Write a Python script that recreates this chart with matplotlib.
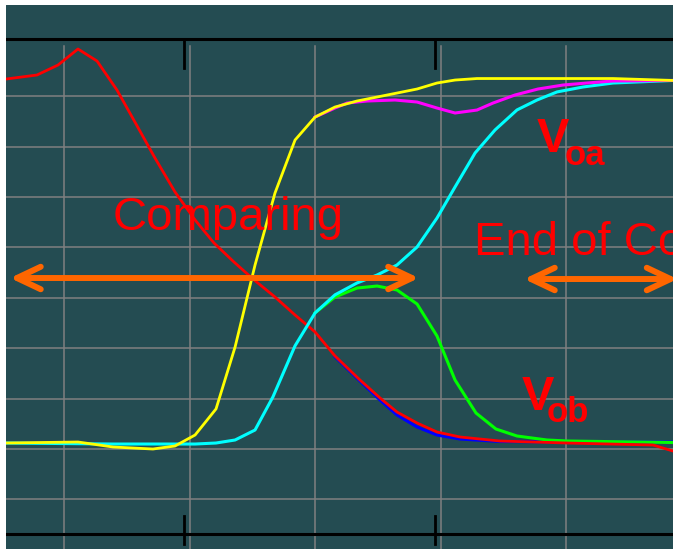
import matplotlib.pyplot as plt

# time axis in scope divisions, voltage in divisions
red_t = [-0.465, -0.218, -0.050, 0.109, 0.261, 0.420, 0.572, 0.723, 0.883, 1.043,
         1.194, 1.353, 1.505, 1.680, 1.840, 2.000, 2.159, 2.358, 2.518, 2.653,
         2.813, 2.972, 3.156, 3.474, 4.009, 4.695, 4.854]
red_v = [8.341, 8.421, 8.619, 8.937, 8.698, 8.123, 7.448, 6.774, 6.099, 5.544,
         5.087, 4.710, 4.373, 4.016, 3.659, 3.321, 2.845, 2.369, 2.012, 1.734,
         1.516, 1.337, 1.238, 1.159, 1.119, 1.079, 0.960]

blue_t = [2.159, 2.358, 2.518, 2.653, 2.813, 2.972, 3.156, 3.474, 4.009, 4.854]
blue_v = [2.830, 2.349, 1.972, 1.675, 1.437, 1.278, 1.198, 1.149, 1.139, 1.139]

yellow_t = [-0.465, 0.109, 0.388, 0.707, 0.883, 1.043, 1.210, 1.362, 1.521, 1.680,
            1.840, 2.000, 2.159, 2.334, 2.653, 2.813, 2.972, 3.116, 3.291, 4.376, 4.854]
yellow_v = [1.119, 1.139, 1.040, 1.000, 1.060, 1.278, 1.796, 3.026, 4.651, 6.079,
            7.131, 7.587, 7.786, 7.905, 8.063, 8.143, 8.262, 8.321, 8.351, 8.351, 8.313]

magenta_t = [2.000, 2.159, 2.255, 2.414, 2.637, 2.813, 2.972, 3.116, 3.291, 3.419,
             3.594, 3.778, 3.977, 4.168, 4.376, 4.854]
magenta_v = [7.587, 7.766, 7.865, 7.905, 7.925, 7.885, 7.766, 7.667, 7.726, 7.865,
             8.024, 8.143, 8.222, 8.262, 8.302, 8.313]

cyan_t = [-0.465, 0.388, 1.043, 1.210, 1.362, 1.521, 1.664, 1.840, 2.000, 2.159,
          2.334, 2.494, 2.653, 2.813, 2.972, 3.116, 3.276, 3.435, 3.610, 3.770,
          3.929, 4.136, 4.376, 4.854]
cyan_v = [1.119, 1.099, 1.099, 1.119, 1.179, 1.377, 2.036, 3.048, 3.702, 4.060,
          4.294, 4.452, 4.651, 5.008, 5.583, 6.200, 6.875, 7.331, 7.728, 7.925,
          8.085, 8.183, 8.262, 8.313]

green_t = [2.000, 2.159, 2.334, 2.494, 2.653, 2.813, 2.972, 3.116, 3.283, 3.442,
           3.610, 3.849, 4.009, 4.854]
green_v = [3.702, 4.016, 4.194, 4.234, 4.155, 3.877, 3.242, 2.369, 1.714, 1.397,
           1.258, 1.179, 1.159, 1.129]

bg = "#244c52"
grid_col = "#808080"
orange = "#ff6600"

fig = plt.figure(figsize=(6.73, 5.49), dpi=100)
ax = fig.add_axes([6 / 673, 0, 667 / 673, 544 / 549])
ax.set_facecolor(bg)
ax.set_xlim(-0.465, 4.854)
ax.set_ylim(-0.984, 9.81)
ax.set_axis_off()
ax.add_patch(plt.Rectangle((0, 0), 1, 1, transform=ax.transAxes, color=bg, zorder=0))

# graticule
for gx in range(5):
    ax.plot([gx, gx], [-0.984, 9.0], color=grid_col, lw=1.1, zorder=1)
for gy in range(9):
    ax.axhline(gy, color=grid_col, lw=1.1, zorder=1)

# frame lines with tick marks
ax.axhline(9.141, color="black", lw=2.2, zorder=2)
ax.axhline(-0.681, color="black", lw=2.2, zorder=2)
for tx in [0.955, 2.956]:
    ax.plot([tx, tx], [9.141, 8.56], color="black", lw=2.0, zorder=2)
    ax.plot([tx, tx], [-0.323, -0.885], color="black", lw=2.0, zorder=2)

# traces
ax.plot(blue_t, blue_v, color="#0000ff", lw=2.2, zorder=3)
ax.plot(green_t, green_v, color="#00ff00", lw=2.2, zorder=4)
ax.plot(red_t, red_v, color="#ff0000", lw=2.0, zorder=5)
ax.plot(cyan_t, cyan_v, color="#00ffff", lw=2.2, zorder=6)
ax.plot(magenta_t, magenta_v, color="#ff00ff", lw=2.2, zorder=7)
ax.plot(yellow_t, yellow_v, color="#ffff00", lw=2.0, zorder=8)

# double arrows
arrow = dict(arrowstyle="<->,head_length=0.38,head_width=0.18", color=orange,
             lw=4.3, shrinkA=0, shrinkB=0, capstyle="round", joinstyle="round",
             mutation_scale=45)
ax.annotate("", xy=(2.828, 4.393), xytext=(-0.433, 4.393), arrowprops=arrow,
            annotation_clip=False, zorder=9)
ax.annotate("", xy=(4.89, 4.373), xytext=(3.666, 4.373), arrowprops=arrow,
            annotation_clip=False, zorder=9)

font = "Liberation Sans"
ax.text(0.388, 5.345, "Comparing", color="red", fontsize=34, family=font,
        ha="left", va="baseline", zorder=10)
ax.text(3.27, 4.849, "End of Comparing", color="red", fontsize=34, family=font,
        ha="left", va="baseline", zorder=10, clip_on=False)

ax.text(3.770, 6.893, "V", color="red", fontsize=35, family=font, weight="bold",
        ha="left", va="baseline", zorder=10)
ax.text(3.993, 6.635, "oa", color="red", fontsize=25, family=font, weight="bold",
        ha="left", va="baseline", zorder=10)
ax.text(3.650, 1.776, "V", color="red", fontsize=35, family=font, weight="bold",
        ha="left", va="baseline", zorder=10)
ax.text(3.849, 1.536, "ob", color="red", fontsize=25, family=font, weight="bold",
        ha="left", va="baseline", zorder=10)

fig.savefig("out.png", dpi=100, facecolor="white")
